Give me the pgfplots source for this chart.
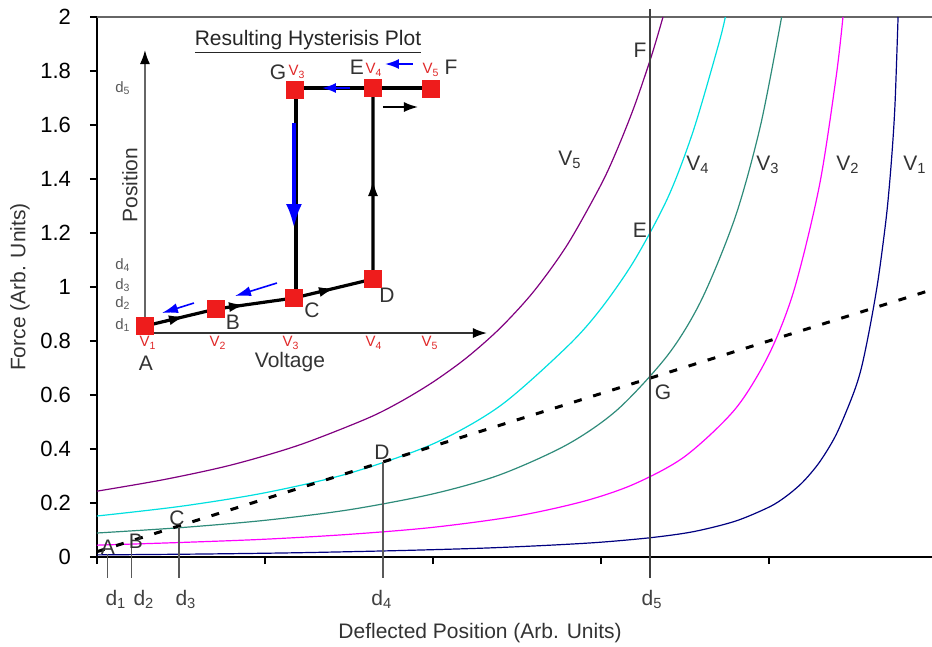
\documentclass[border=0pt]{standalone}
\usepackage{fontspec}
\setmainfont{Liberation Sans}
\usepackage{pgfplots}
\pgfplotsset{compat=1.18}
\usetikzlibrary{arrows.meta}
\definecolor{vone}{HTML}{000080}
\definecolor{vtwo}{HTML}{FF00FF}
\definecolor{vthree}{HTML}{2E8B7A}
\definecolor{vfour}{HTML}{00E0E0}
\definecolor{vfive}{HTML}{800080}
\definecolor{ptred}{HTML}{EE1C1C}
\definecolor{lblred}{HTML}{E02828}
\newcommand{\mainfs}{\fontsize{10.5}{12}\selectfont}
\newcommand{\smallfs}{\fontsize{7.5}{9}\selectfont}

\begin{document}
\begin{tikzpicture}
% main chart: force vs deflected position
\begin{axis}[
  scale only axis, width=417.5pt, height=270pt,
  xmin=0, xmax=4.97, ymin=0, ymax=2,
  axis x line*=bottom, axis y line*=left,
  axis line style={black, line width=0.7pt, -},
  xtick={0,1,2,3,4}, xticklabels={},
  ytick={0,0.2,0.4,0.6,0.8,1,1.2,1.4,1.6,1.8,2},
  tick align=outside, major tick length=3.5pt,
  tick style={black, line width=0.6pt},
  yticklabel shift=6pt,
  yticklabel style={/pgf/number format/fixed,
    /pgf/number format/assume math mode=true, font=\fontsize{11}{13}\selectfont},
  extra y ticks={2}, extra y tick labels={},
  extra y tick style={grid=major, major grid style={black!60, line width=0.6pt}, major tick length=0pt},
  clip=false,
]
% V1
\addplot[vone, line width=0.6pt, smooth] coordinates {
  (0,0.008) (0.6,0.011) (1.2,0.016) (1.8,0.024) (2.3,0.033) (2.7,0.044) (3.0,0.055)
  (3.3,0.072) (3.55,0.094) (3.8,0.133) (4.0,0.185) (4.1,0.224) (4.2,0.277)
  (4.3,0.351) (4.4,0.454) (4.5,0.602) (4.55,0.701) (4.6,0.850) (4.65,1.030)
  (4.7,1.270) (4.73,1.480) (4.75,1.680) (4.768,2.0)};
% V2
\addplot[vtwo, line width=0.6pt, smooth] coordinates {
  (0,0.044) (0.5,0.054) (1.0,0.066) (1.5,0.084) (2.0,0.110) (2.5,0.152) (2.9,0.207)
  (3.2,0.271) (3.5,0.373) (3.8,0.549) (4.0,0.751) (4.15,0.991) (4.3,1.376)
  (4.4,1.781) (4.44,2.0)};
% V3
\addplot[vthree, line width=0.6pt, smooth] coordinates {
  (0,0.089) (0.5,0.109) (1.0,0.136) (1.5,0.175) (2.0,0.234) (2.4,0.305) (2.8,0.417)
  (3.1,0.547) (3.4,0.750) (3.6,0.955) (3.8,1.261) (3.95,1.600) (4.075,2.0)};
% V4
\addplot[vfour, line width=0.6pt, smooth] coordinates {
  (0,0.152) (0.5,0.188) (1.0,0.238) (1.5,0.310) (2.0,0.419) (2.4,0.560) (2.8,0.780)
  (3.0,0.920) (3.2,1.100) (3.4,1.334) (3.55,1.580) (3.7,1.899) (3.74,2.0)};
% V5
\addplot[vfive, line width=0.6pt, smooth] coordinates {
  (0,0.244) (0.4,0.287) (0.8,0.341) (1.2,0.414) (1.6,0.511) (1.8,0.573) (2.0,0.648)
  (2.2,0.738) (2.4,0.848) (2.6,0.984) (2.8,1.157) (3.0,1.379) (3.1,1.515)
  (3.2,1.672) (3.3,1.855) (3.369,2.0)};
% operating line
\addplot[black, line width=1.5pt, dash pattern=on 4pt off 6pt] coordinates {(0,0.02) (4.97,0.99)};
% position markers
\addplot[black!65, line width=0.6pt] coordinates {(0.065,0.01) (0.065,-0.078)};
\addplot[black!65, line width=0.6pt] coordinates {(0.208,0.085) (0.208,-0.078)};
\addplot[black!65, line width=0.6pt] coordinates {(0.488,0.11) (0.488,-0.078)};
\addplot[black!65, line width=0.6pt] coordinates {(1.702,0.352) (1.702,-0.078)};
\addplot[black!75, line width=0.6pt] coordinates {(3.292,2.03) (3.292,-0.078)};

\node[font=\mainfs, text=black!75] at (axis cs:0.113,-0.156) {d\textsubscript{1}};
\node[font=\mainfs, text=black!75] at (axis cs:0.280,-0.156) {d\textsubscript{2}};
\node[font=\mainfs, text=black!75] at (axis cs:0.530,-0.156) {d\textsubscript{3}};
\node[font=\mainfs, text=black!75] at (axis cs:1.696,-0.156) {d\textsubscript{4}};
\node[font=\mainfs, text=black!75] at (axis cs:3.304,-0.156) {d\textsubscript{5}};

\node[font=\mainfs, text=black!80] at (axis cs:0.065,0.035) {A};
\node[font=\mainfs, text=black!80] at (axis cs:0.232,0.058) {B};
\node[font=\mainfs, text=black!80] at (axis cs:0.476,0.144) {C};
\node[font=\mainfs, text=black!80] at (axis cs:1.696,0.389) {D};
\node[font=\mainfs, text=black!80] at (axis cs:3.232,1.211) {E};
\node[font=\mainfs, text=black!80] at (axis cs:3.232,1.878) {F};
\node[font=\mainfs, text=black!80] at (axis cs:3.369,0.611) {G};

\node[font=\mainfs, text=black!80] at (axis cs:2.815,1.470) {V\textsubscript{5}};
\node[font=\mainfs, text=black!80] at (axis cs:3.577,1.452) {V\textsubscript{4}};
\node[font=\mainfs, text=black!80] at (axis cs:3.994,1.452) {V\textsubscript{3}};
\node[font=\mainfs, text=black!80] at (axis cs:4.470,1.452) {V\textsubscript{2}};
\node[font=\mainfs, text=black!80] at (axis cs:4.869,1.452) {V\textsubscript{1}};

\node[font=\mainfs, text=black!80] at (axis cs:2.28,-0.281) {Deflected Position (Arb. Units)};
\node[font=\mainfs, text=black!80, rotate=90] at (axis cs:-0.458,1.0) {Force (Arb. Units)};

\coordinate (bl) at (axis cs:-0.577,-0.333);
\coordinate (tr) at (axis cs:4.97,2.063);
\end{axis}

% inset: hysteresis loop, in picture pixel units
\begin{axis}[
  scale only axis, width=417.5pt, height=270pt,
  xmin=97, xmax=932, ymin=17, ymax=557, y dir=reverse,
  hide axis, clip=false,
]
\addplot[black!60, line width=0.8pt, -{Latex[length=7pt,width=5pt,black]}] coordinates {(145,334) (145,50)};
\addplot[black!80, line width=0.8pt, -{Latex[length=7pt,width=5pt,black]}] coordinates {(145,333) (487,333)};
\addplot[only marks, mark=square*, mark size=4.2pt, ptred, mark options={draw=ptred}] coordinates {
  (145,326) (216,309) (294,298) (373,279) (295,90) (373,88) (431,89)};
\addplot[black, line width=1.6pt] coordinates {(145,326) (216,309) (294,298) (373,279) (373,88)};
\addplot[black, line width=1.6pt] coordinates {(296,298) (296,88)};
\addplot[black, line width=1.6pt] coordinates {(295,88) (431,88)};
% direction arrows
\addplot[black, line width=1.2pt, -{Latex[length=8pt,width=5pt]}] coordinates {(165,321.2) (185,316.4)};
\addplot[black, line width=1.2pt, -{Latex[length=8pt,width=5pt]}] coordinates {(225,307.6) (245,304.8)};
\addplot[black, line width=1.2pt, -{Latex[length=8pt,width=5pt]}] coordinates {(315,293) (335,288.2)};
\addplot[black, line width=1.2pt, -{Latex[length=8pt,width=5pt]}] coordinates {(373,205) (373,180)};
\addplot[black, line width=0.8pt, -{Latex[length=7pt,width=5pt]}] coordinates {(383,107) (418,107)};
\addplot[blue, line width=1pt, -{Latex[length=7pt,width=5pt]}] coordinates {(350,88) (322,88)};
\addplot[blue, line width=1pt, -{Latex[length=7pt,width=5pt]}] coordinates {(413,64) (385,64)};
\addplot[blue, line width=2pt, -{Latex[length=12pt,width=8pt]}] coordinates {(294,123) (294,228)};
\addplot[blue, line width=0.8pt, -{Latex[length=8pt,width=5pt]}] coordinates {(277,283) (235,296)};
\addplot[blue, line width=0.8pt, -{Latex[length=8pt,width=5pt]}] coordinates {(194,303) (162,313)};

\node[font=\mainfs, text=black!85] at (axis cs:308,42) {\underline{Resulting Hysterisis Plot}};
\node[font=\mainfs, text=black!80, rotate=90] at (axis cs:130,185) {Position};
\node[font=\mainfs, text=black!80] at (axis cs:290,362) {Voltage};

\node[font=\mainfs, text=black!80] at (axis cs:278,72) {G};
\node[font=\mainfs, text=black!80] at (axis cs:357,67) {E};
\node[font=\mainfs, text=black!80] at (axis cs:451,67) {F};
\node[font=\mainfs, text=black!80] at (axis cs:146,363) {A};
\node[font=\mainfs, text=black!80] at (axis cs:233,322) {B};
\node[font=\mainfs, text=black!80] at (axis cs:312,310) {C};
\node[font=\mainfs, text=black!80] at (axis cs:387,295) {D};

\node[font=\smallfs, text=lblred] at (axis cs:297,72) {V\textsubscript{3}};
\node[font=\smallfs, text=lblred] at (axis cs:374,70) {V\textsubscript{4}};
\node[font=\smallfs, text=lblred] at (axis cs:431,70) {V\textsubscript{5}};
\node[font=\smallfs, text=lblred] at (axis cs:148,343) {V\textsubscript{1}};
\node[font=\smallfs, text=lblred] at (axis cs:218,343) {V\textsubscript{2}};
\node[font=\smallfs, text=lblred] at (axis cs:291,343) {V\textsubscript{3}};
\node[font=\smallfs, text=lblred] at (axis cs:374,343) {V\textsubscript{4}};
\node[font=\smallfs, text=lblred] at (axis cs:430,343) {V\textsubscript{5}};

\node[font=\smallfs, text=black!65] at (axis cs:123,88) {d\textsubscript{5}};
\node[font=\smallfs, text=black!65] at (axis cs:123,265) {d\textsubscript{4}};
\node[font=\smallfs, text=black!65] at (axis cs:123,285) {d\textsubscript{3}};
\node[font=\smallfs, text=black!65] at (axis cs:123,303) {d\textsubscript{2}};
\node[font=\smallfs, text=black!65] at (axis cs:123,325) {d\textsubscript{1}};
\end{axis}
\pgfresetboundingbox
\path[use as bounding box] (bl) rectangle (tr);
\end{tikzpicture}
\end{document}
